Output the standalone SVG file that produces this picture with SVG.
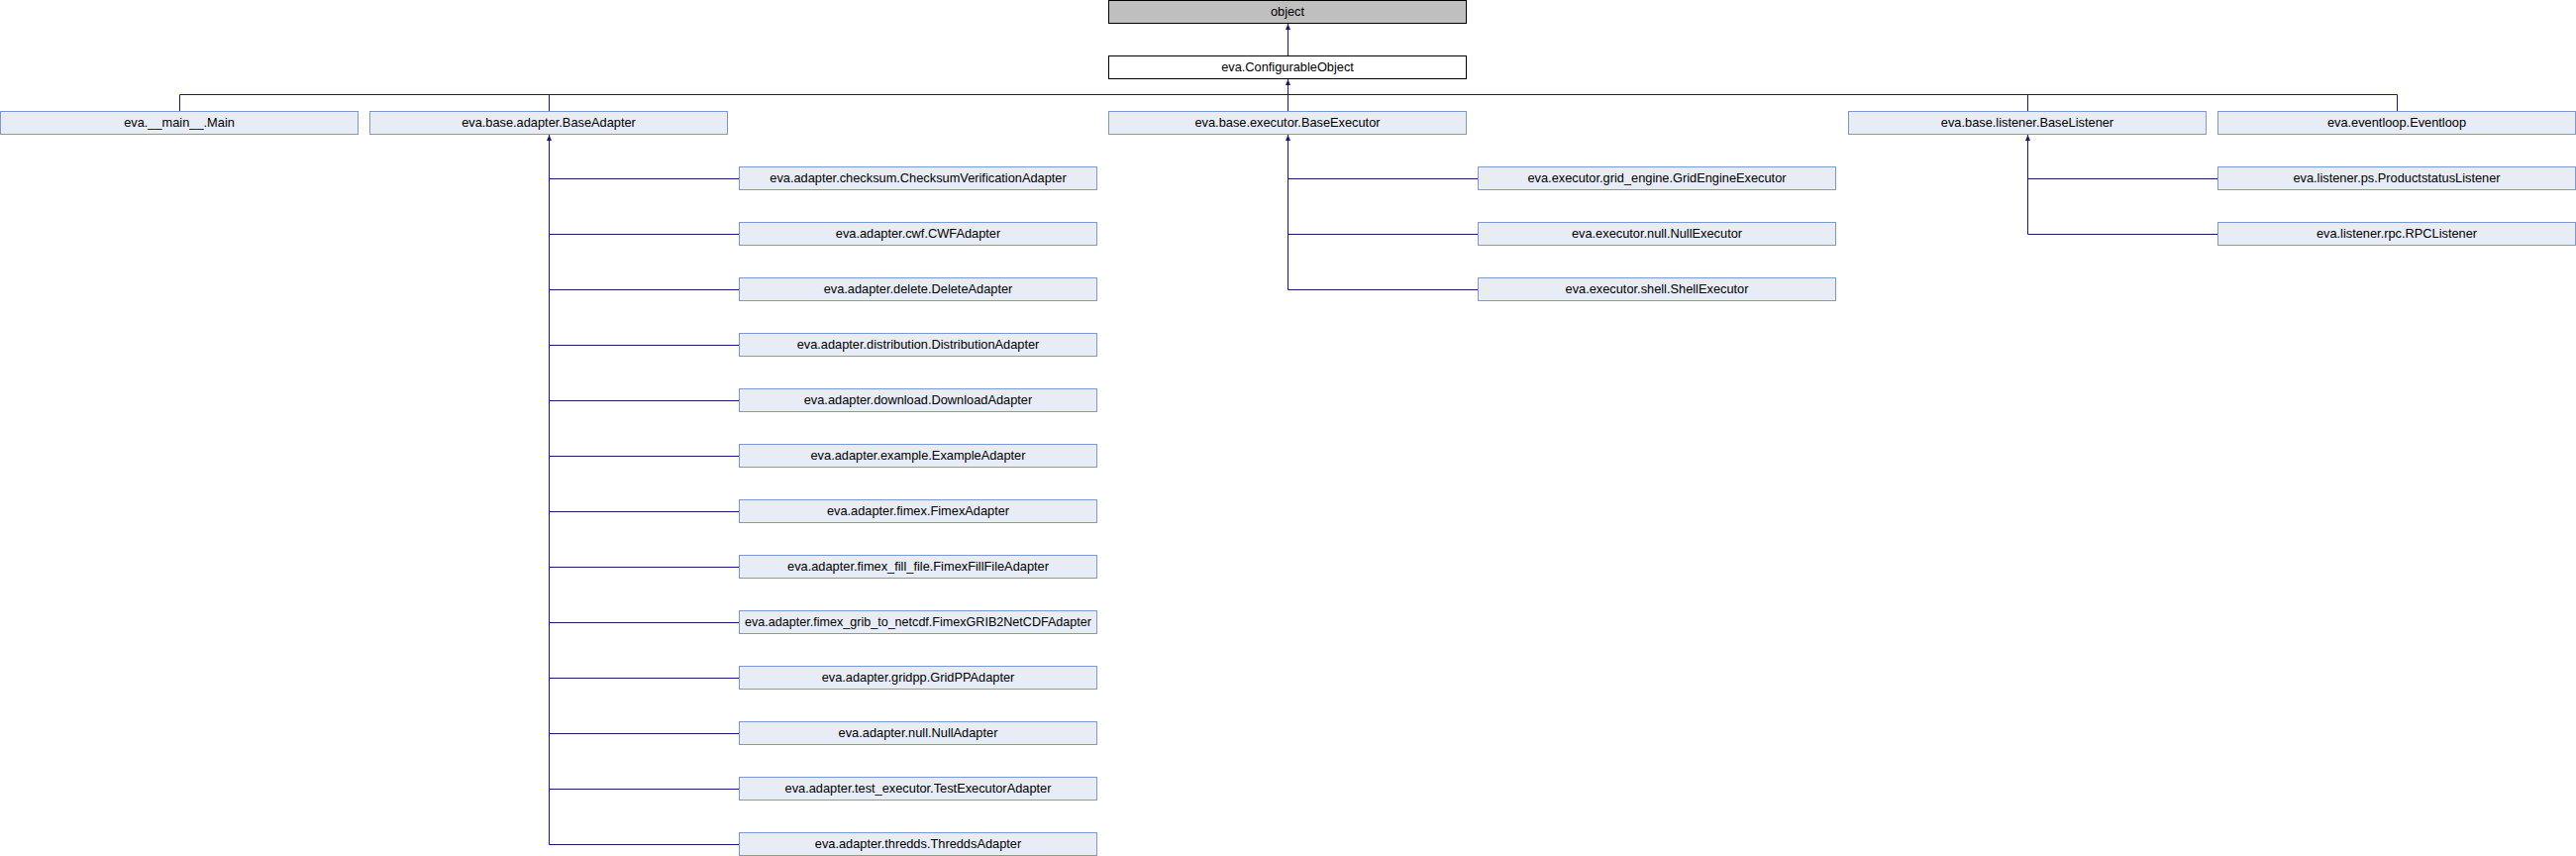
<svg xmlns="http://www.w3.org/2000/svg" width="2601" height="864" viewBox="0 0 2601 864">
<defs>
<style>
.n rect{fill:#E8ECF5;stroke:#7C98CC;stroke-width:1}
.n text{font-family:"Liberation Sans",Arial,sans-serif;font-size:12.8px;fill:#000;text-anchor:middle}
.e path{fill:none;stroke:#191970;stroke-width:1}
.e path.a{marker-end:url(#arr)}
#n_object rect{fill:#BFBFBF;stroke:#000}
#n_conf rect{fill:#FFFFFF;stroke:#000}
</style>
<marker id="arr" markerUnits="userSpaceOnUse" markerWidth="6" markerHeight="5" refX="6" refY="2.5" orient="auto">
<path d="M0,0 L6,2.5 L0,5 Z" fill="#191970"/>
</marker>
</defs>
<rect x="0" y="0" width="2601" height="864" fill="#FFFFFF"/>
<g class="e" id="connectors">
<path class="a" d="M1300.5,56.5 V24"/>
<path class="a" d="M1300.5,112.5 V80"/>
<path d="M181.5,112.5 V95.5 H2420.5 V112.5"/>
<path d="M554.5,95.5 V112.5"/>
<path d="M2047.5,95.5 V112.5"/>
<path class="a" d="M554.5,852.5 V136"/>
<path d="M554.5,180.5 H746.5"/>
<path d="M554.5,236.5 H746.5"/>
<path d="M554.5,292.5 H746.5"/>
<path d="M554.5,348.5 H746.5"/>
<path d="M554.5,404.5 H746.5"/>
<path d="M554.5,460.5 H746.5"/>
<path d="M554.5,516.5 H746.5"/>
<path d="M554.5,572.5 H746.5"/>
<path d="M554.5,628.5 H746.5"/>
<path d="M554.5,684.5 H746.5"/>
<path d="M554.5,740.5 H746.5"/>
<path d="M554.5,796.5 H746.5"/>
<path d="M554.5,852.5 H746.5"/>
<path class="a" d="M1300.5,292.5 V136"/>
<path d="M1300.5,180.5 H1492.5"/>
<path d="M1300.5,236.5 H1492.5"/>
<path d="M1300.5,292.5 H1492.5"/>
<path class="a" d="M2047.5,236.5 V136"/>
<path d="M2047.5,180.5 H2239.5"/>
<path d="M2047.5,236.5 H2239.5"/>
</g>
<g class="n" id="n_object"><rect x="1119.5" y="0.5" width="361" height="23"/><text x="1300" y="15.5">object</text></g>
<g class="n" id="n_conf"><rect x="1119.5" y="56.5" width="361" height="23"/><text x="1300" y="72">eva.ConfigurableObject</text></g>
<g class="n" id="n_main"><rect x="0.5" y="112.5" width="361" height="23"/><text x="181" y="128">eva.__main__.Main</text></g>
<g class="n" id="n_baseadapter"><rect x="373.5" y="112.5" width="361" height="23"/><text x="554" y="128">eva.base.adapter.BaseAdapter</text></g>
<g class="n" id="n_baseexecutor"><rect x="1119.5" y="112.5" width="361" height="23"/><text x="1300" y="128">eva.base.executor.BaseExecutor</text></g>
<g class="n" id="n_baselistener"><rect x="1866.5" y="112.5" width="361" height="23"/><text x="2047" y="128">eva.base.listener.BaseListener</text></g>
<g class="n" id="n_eventloop"><rect x="2239.5" y="112.5" width="361" height="23"/><text x="2420" y="128">eva.eventloop.Eventloop</text></g>
<g class="n" id="n_checksum"><rect x="746.5" y="168.5" width="361" height="23"/><text x="927" y="184">eva.adapter.checksum.ChecksumVerificationAdapter</text></g>
<g class="n" id="n_cwf"><rect x="746.5" y="224.5" width="361" height="23"/><text x="927" y="240">eva.adapter.cwf.CWFAdapter</text></g>
<g class="n" id="n_delete"><rect x="746.5" y="280.5" width="361" height="23"/><text x="927" y="296">eva.adapter.delete.DeleteAdapter</text></g>
<g class="n" id="n_distribution"><rect x="746.5" y="336.5" width="361" height="23"/><text x="927" y="352">eva.adapter.distribution.DistributionAdapter</text></g>
<g class="n" id="n_download"><rect x="746.5" y="392.5" width="361" height="23"/><text x="927" y="408">eva.adapter.download.DownloadAdapter</text></g>
<g class="n" id="n_example"><rect x="746.5" y="448.5" width="361" height="23"/><text x="927" y="464">eva.adapter.example.ExampleAdapter</text></g>
<g class="n" id="n_fimex"><rect x="746.5" y="504.5" width="361" height="23"/><text x="927" y="520">eva.adapter.fimex.FimexAdapter</text></g>
<g class="n" id="n_fimexfill"><rect x="746.5" y="560.5" width="361" height="23"/><text x="927" y="576">eva.adapter.fimex_fill_file.FimexFillFileAdapter</text></g>
<g class="n" id="n_fimexgrib"><rect x="746.5" y="616.5" width="361" height="23"/><text x="927" y="632" textLength="350" lengthAdjust="spacingAndGlyphs">eva.adapter.fimex_grib_to_netcdf.FimexGRIB2NetCDFAdapter</text></g>
<g class="n" id="n_gridpp"><rect x="746.5" y="672.5" width="361" height="23"/><text x="927" y="688">eva.adapter.gridpp.GridPPAdapter</text></g>
<g class="n" id="n_nulladapter"><rect x="746.5" y="728.5" width="361" height="23"/><text x="927" y="744">eva.adapter.null.NullAdapter</text></g>
<g class="n" id="n_testexec"><rect x="746.5" y="784.5" width="361" height="23"/><text x="927" y="800">eva.adapter.test_executor.TestExecutorAdapter</text></g>
<g class="n" id="n_thredds"><rect x="746.5" y="840.5" width="361" height="23"/><text x="927" y="856">eva.adapter.thredds.ThreddsAdapter</text></g>
<g class="n" id="n_gridengine"><rect x="1492.5" y="168.5" width="361" height="23"/><text x="1673" y="184">eva.executor.grid_engine.GridEngineExecutor</text></g>
<g class="n" id="n_nullexec"><rect x="1492.5" y="224.5" width="361" height="23"/><text x="1673" y="240">eva.executor.null.NullExecutor</text></g>
<g class="n" id="n_shell"><rect x="1492.5" y="280.5" width="361" height="23"/><text x="1673" y="296">eva.executor.shell.ShellExecutor</text></g>
<g class="n" id="n_ps"><rect x="2239.5" y="168.5" width="361" height="23"/><text x="2420" y="184">eva.listener.ps.ProductstatusListener</text></g>
<g class="n" id="n_rpc"><rect x="2239.5" y="224.5" width="361" height="23"/><text x="2420" y="240">eva.listener.rpc.RPCListener</text></g>
</svg>
